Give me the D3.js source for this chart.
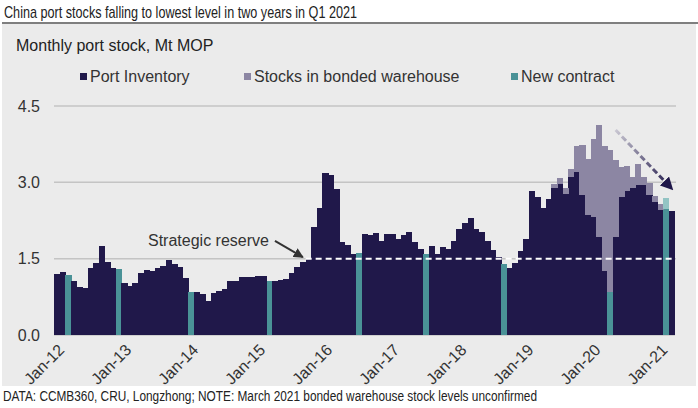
<!DOCTYPE html>
<html>
<head>
<meta charset="utf-8">
<script src="https://cdn.jsdelivr.net/npm/d3@7"></script>
<style>
  body { margin: 0; background: #fff; }
  svg { display: block; }
  text { font-family: "Liberation Sans", Arial, sans-serif; }
</style>
</head>
<body>
<svg id="chart" width="698" height="408"></svg>
<script>
// month categories Jan-12 .. Mar-21
const months = d3.timeMonths(new Date(2012, 0, 1), new Date(2021, 3, 1)).map(d3.timeFormat("%b-%y"));

// port inventory, Mt MOP (one value per month)
const portInventory = [
  1.19, 1.23, 1.17, 1.07, 0.95, 0.92, 1.31, 1.42, 1.74, 1.44, 1.31, 1.30,
  1.02, 0.96, 1.03, 1.21, 1.28, 1.26, 1.32, 1.36, 1.47, 1.40, 1.34, 1.12,
  0.85, 0.84, 0.80, 0.66, 0.83, 0.86, 0.90, 1.06, 1.07, 1.13, 1.13, 1.13,
  1.16, 1.16, 1.06, 1.06, 1.08, 1.11, 1.21, 1.34, 1.44, 1.52, 2.12, 2.49,
  3.18, 3.15, 2.87, 1.82, 1.76, 1.59, 1.62, 1.98, 1.96, 2.00, 1.85, 1.98,
  1.98, 1.88, 1.97, 2.03, 1.82, 1.69, 1.60, 1.74, 1.59, 1.72, 1.69, 1.85,
  2.08, 2.21, 2.29, 2.08, 2.03, 1.85, 1.67, 1.53, 1.40, 1.31, 1.41, 1.66,
  1.88, 2.82, 2.72, 2.49, 2.67, 2.88, 2.96, 2.77, 3.11, 3.20, 2.75, 2.36,
  2.31, 1.93, 1.25, 0.84, 1.92, 2.72, 2.83, 2.88, 2.94, 2.94, 2.76, 2.62,
  2.46, 2.47, 2.44
];

// stocks in bonded warehouse, from Jun-19 onwards (stacked on port inventory)
const bondedFrom = "Jun-19";
const bondedStock = [
  0.09, 0.13, 0.11, 0.16, 0.52, 0.99, 1.09, 1.55, 2.20, 2.46, 2.79,
  1.52, 0.58, 0.50, 0.22, 0.43, 0.16, 0.22, 0.11, 0.12, 0.22, 0
];

// months with a new contract signed
const newContractMonths = ["Mar-12", "Dec-12", "Jan-14", "Mar-15", "Jul-16", "Jul-17", "Sep-18", "Apr-20", "Feb-21"];
const lightBondedMonths = ["Feb-21"];

const yTicks = [0, 1.5, 3.0, 4.5];
const xTickMonths = ["Jan-12", "Jan-13", "Jan-14", "Jan-15", "Jan-16", "Jan-17", "Jan-18", "Jan-19", "Jan-20", "Jan-21"];

const strategicReserve = 1.5;
const reserveFrom = "Oct-15";
const reserveArrow = { from: ["Apr-15", 1.85], to: ["Sep-15", 1.53] };
const trendArrow = { from: ["May-20", 4.03], to: ["Mar-21", 2.88] };

const colors = {
  port: "#20184a",
  bonded: "#8c86a3",
  contract: "#4a9297",
  contractLight: "#93c4c4",
  panel: "#ebebeb",
  grid: "#c4c4c4",
  text: "#333"
};

const svg = d3.select("#chart");

// narrow-looking text: squeeze real text to the reference width
function fit(sel, w) {
  return sel.attr("textLength", w).attr("lengthAdjust", "spacingAndGlyphs");
}

// title + rule
svg.append("text")
  .attr("x", 4).attr("y", 18)
  .attr("fill", "#222")
  .style("font-size", "17px")
  .text("China port stocks falling to lowest level in two years in Q1 2021")
  .call(fit, 353);

svg.append("rect")
  .attr("x", 2).attr("y", 24).attr("width", 694).attr("height", 362)
  .attr("fill", colors.panel);

svg.append("line")
  .attr("x1", 2).attr("x2", 698).attr("y1", 23).attr("y2", 23)
  .attr("stroke", "#555").attr("stroke-width", 1.5);

svg.append("text")
  .attr("x", 16).attr("y", 51)
  .attr("fill", "#222")
  .style("font-size", "16px")
  .text("Monthly port stock, Mt MOP");

// legend
const legendData = [
  { label: "Port Inventory", color: colors.port, x: 80 },
  { label: "Stocks in bonded warehouse", color: colors.bonded, x: 244 },
  { label: "New contract", color: colors.contract, x: 511 }
];
const legend = svg.append("g");
legendData.forEach(d => {
  legend.append("rect")
    .attr("x", d.x).attr("y", 73).attr("width", 7).attr("height", 7)
    .attr("fill", d.color);
  legend.append("text")
    .attr("x", d.x + 10).attr("y", 82)
    .attr("fill", colors.text)
    .style("font-size", "16px")
    .text(d.label);
});

// scales
const x = d3.scaleBand().domain(months).range([54.3, 674.3]).padding(0);
const y = d3.scaleLinear().domain([0, 4.5]).range([335, 106]);

// gridlines
svg.append("g")
  .selectAll("line")
  .data(yTicks.filter(t => t > 0))
  .join("line")
  .attr("x1", 54).attr("x2", 676)
  .attr("y1", d => y(d)).attr("y2", d => y(d))
  .attr("stroke", colors.grid).attr("stroke-width", 1.5);

// y tick labels
svg.append("g")
  .selectAll("text")
  .data(yTicks)
  .join("text")
  .attr("x", 40).attr("y", d => y(d))
  .attr("dy", "0.35em")
  .attr("text-anchor", "end")
  .attr("fill", colors.text)
  .style("font-size", "16px")
  .text(d => d.toFixed(1));

// bars
const bondedStart = months.indexOf(bondedFrom);
const barData = months.map((m, i) => ({
  month: m,
  port: portInventory[i],
  bonded: i >= bondedStart ? bondedStock[i - bondedStart] : 0,
  contract: newContractMonths.includes(m)
}));

const bars = svg.append("g").attr("shape-rendering", "crispEdges");
bars.selectAll("rect.port")
  .data(barData)
  .join("rect")
  .attr("class", "port")
  .attr("x", d => x(d.month))
  .attr("width", x.bandwidth() + 0.6)
  .attr("y", d => y(d.port))
  .attr("height", d => y(0) - y(d.port))
  .attr("fill", d => d.contract ? colors.contract : colors.port);

bars.selectAll("rect.bonded")
  .data(barData.filter(d => d.bonded > 0))
  .join("rect")
  .attr("class", "bonded")
  .attr("x", d => x(d.month))
  .attr("width", x.bandwidth() + 0.6)
  .attr("y", d => y(d.port + d.bonded))
  .attr("height", d => y(d.port) - y(d.port + d.bonded))
  .attr("fill", d => lightBondedMonths.includes(d.month) ? colors.contractLight : colors.bonded);

// baseline
svg.append("line")
  .attr("x1", 54).attr("x2", 675)
  .attr("y1", y(0) + 0.5).attr("y2", y(0) + 0.5)
  .attr("stroke", "#cfcfcf").attr("stroke-width", 1);

// x tick labels
svg.append("g")
  .selectAll("text")
  .data(xTickMonths)
  .join("text")
  .attr("transform", d => `translate(${x(d) + 7},${y(0) + 12}) rotate(-45)`)
  .attr("text-anchor", "end")
  .attr("dy", "0.35em")
  .attr("fill", colors.text)
  .style("font-size", "16px")
  .text(d => d);

// strategic reserve line
svg.append("line")
  .attr("x1", x(reserveFrom)).attr("x2", x(months[months.length - 1]) + x.bandwidth())
  .attr("y1", y(strategicReserve)).attr("y2", y(strategicReserve))
  .attr("stroke", "#fff").attr("stroke-width", 2)
  .attr("stroke-dasharray", "6,4");

svg.append("text")
  .attr("x", 148).attr("y", y(1.85))
  .attr("dy", "0.35em")
  .attr("fill", colors.text)
  .style("font-size", "16px")
  .text("Strategic reserve");

const defs = svg.append("defs");
defs.append("marker")
  .attr("id", "head-dark")
  .attr("viewBox", "0 0 10 10").attr("refX", 9).attr("refY", 5)
  .attr("markerWidth", 5).attr("markerHeight", 5)
  .attr("orient", "auto")
  .append("path").attr("d", "M0,0L10,5L0,10Z").attr("fill", "#333");

defs.append("marker")
  .attr("id", "head-navy")
  .attr("viewBox", "0 0 10 10").attr("refX", 8).attr("refY", 5)
  .attr("markerWidth", 4.3).attr("markerHeight", 4.3)
  .attr("orient", "auto")
  .append("path").attr("d", "M0,0L10,5L0,10Z").attr("fill", colors.port);

const rx = m => x(m) + x.bandwidth() / 2;

svg.append("line")
  .attr("x1", rx(reserveArrow.from[0])).attr("y1", y(reserveArrow.from[1]))
  .attr("x2", rx(reserveArrow.to[0])).attr("y2", y(reserveArrow.to[1]))
  .attr("stroke", "#333").attr("stroke-width", 2)
  .attr("marker-end", "url(#head-dark)");

// trend arrow with fading dashes
const tx1 = rx(trendArrow.from[0]), ty1 = y(trendArrow.from[1]);
const tx2 = rx(trendArrow.to[0]), ty2 = y(trendArrow.to[1]);
const grad = defs.append("linearGradient")
  .attr("id", "trend-grad")
  .attr("gradientUnits", "userSpaceOnUse")
  .attr("x1", tx1).attr("y1", ty1).attr("x2", tx2).attr("y2", ty2);
grad.append("stop").attr("offset", "0%").attr("stop-color", "#c9c7d2");
grad.append("stop").attr("offset", "100%").attr("stop-color", colors.port);

svg.append("line")
  .attr("x1", tx1).attr("y1", ty1)
  .attr("x2", tx2).attr("y2", ty2)
  .attr("stroke", "url(#trend-grad)").attr("stroke-width", 3)
  .attr("stroke-dasharray", "6,3")
  .attr("marker-end", "url(#head-navy)");

// footnote
svg.append("text")
  .attr("x", 3).attr("y", 401)
  .attr("fill", "#222")
  .style("font-size", "14px")
  .text("DATA: CCMB360, CRU, Longzhong; NOTE: March 2021 bonded warehouse stock levels unconfirmed")
  .call(fit, 534);
</script>
</body>
</html>
